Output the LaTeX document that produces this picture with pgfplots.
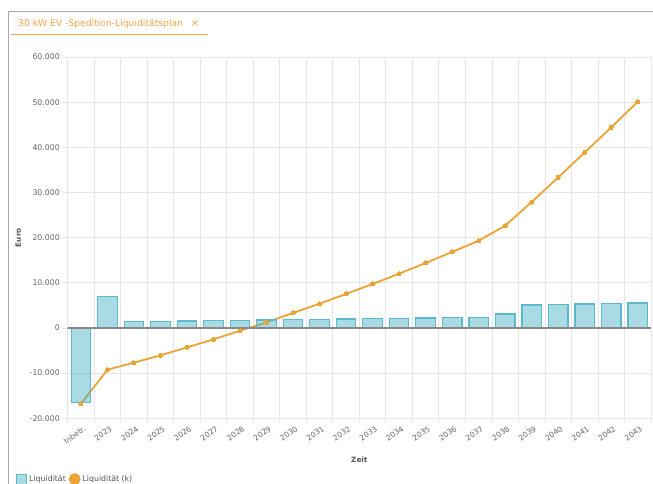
\documentclass[border=0pt]{standalone}
\usepackage{fontspec}
\setmainfont{DejaVu Sans}
\usepackage{pgfplots}
\pgfplotsset{compat=1.18}
\definecolor{framegray}{HTML}{A8A8A8}
\definecolor{titleorange}{HTML}{F5A346}
\definecolor{lineorange}{HTML}{EBA334}
\definecolor{gridgray}{HTML}{E6E6E6}
\definecolor{zerogray}{HTML}{888888}
\definecolor{tickgray}{HTML}{666666}
\definecolor{labelgray}{HTML}{555555}
\definecolor{barteal}{HTML}{40B0C4}
\definecolor{barborder}{HTML}{5BBACB}
\pgfplotstableread{
x y
0 -16450
1 7000
2 1400
3 1460
4 1550
5 1620
6 1690
7 1770
8 1850
9 1900
10 1990
11 2060
12 2130
13 2200
14 2280
15 2350
16 3100
17 5090
18 5230
19 5310
20 5380
21 5530
}\bars
\pgfplotstableread{
x y
0 -16800
1 -9230
2 -7680
3 -6060
4 -4290
5 -2520
6 -600
7 1240
8 3320
9 5380
10 7530
11 9740
12 12020
13 14390
14 16830
15 19330
16 22650
17 27890
18 33350
19 38880
20 44420
21 50100
}\cum
\begin{document}
\begin{tikzpicture}
\useasboundingbox (0,0) rectangle (653pt,483pt);
\clip (0,0) rectangle (653pt,483pt);
\draw[framegray, line width=1.5pt] (8.3pt,-2pt) -- (8.3pt,471.3pt) -- (660pt,471.3pt);
\node[anchor=base west, inner sep=0pt, text=titleorange, font=\fontsize{9.2}{11}\selectfont] at (18pt,456pt) {30 kW EV -Spedition-Liquiditätsplan};
\node[anchor=center, inner sep=0pt, text=titleorange, font=\fontsize{10}{11}\selectfont] at (195pt,459.5pt) {×};
\draw[titleorange, line width=1.3pt] (11pt,448.7pt) -- (208pt,448.7pt);
\begin{axis}[
  scale only axis, width=583.3pt, height=361.3pt,
  at={(67.7pt,64.7pt)}, anchor=south west,
  xmin=-0.5, xmax=21.5, ymin=-20000, ymax=60000,
  ytick={-20000,-10000,...,60000},
  scaled y ticks=false,
  xtick={0,...,21},
  xticklabels={Inbetr.,2023,2024,2025,2026,2027,2028,2029,2030,2031,2032,2033,2034,2035,2036,2037,2038,2039,2040,2041,2042,2043},
  minor xtick={-0.5,0.5,...,21.5},
  xmajorgrids=false, xminorgrids=true, ymajorgrids=true,
  grid style={draw=gridgray, line width=0.8pt},
  minor grid style={draw=gridgray, line width=0.8pt},
  axis line style={draw=gridgray, line width=0.8pt},
  tick align=outside, tick pos=left,
  major tick length=6pt, minor tick length=4pt,
  xtick style={draw=none},
  minor x tick style={draw=gridgray, line width=0.8pt},
  ytick style={draw=gridgray, line width=0.8pt},
  /pgf/number format/assume math mode=true,
  yticklabel style={/pgf/number format/.cd, fixed, precision=0, 1000 sep={.}, /tikz/.cd, anchor=east, inner sep=0pt, xshift=-1.7pt, text=tickgray, font=\fontsize{7.8}{9}\selectfont},
  xticklabel style={rotate=35, anchor=north east, inner sep=0pt, xshift=1pt, yshift=-2pt, text=tickgray, font=\fontsize{7.6}{9}\selectfont},
  xlabel={Zeit}, ylabel={Euro},
  xlabel style={at={(axis description cs:0.5,-0.1154)}, anchor=center, text=labelgray, font=\bfseries\fontsize{7.3}{9}\selectfont},
  ylabel style={at={(axis description cs:-0.0847,0.5)}, anchor=center, text=labelgray, font=\bfseries\fontsize{7.3}{9}\selectfont},
  reverse legend,
  legend columns=-1,
  legend style={at={(axis description cs:-0.0886,-0.1514)}, anchor=north west, draw=none, fill=none, inner sep=0pt, text=labelgray, font=\fontsize{7.8}{9}\selectfont, nodes={inner xsep=2pt, inner ysep=0pt}, /tikz/every even column/.append style={column sep=1pt}},
  legend cell align=left,
]
\addplot[color=lineorange, line width=1.8pt, mark=*, mark size=2pt, mark options={fill=lineorange, draw=lineorange, line width=0pt},
  legend image code/.code={\fill[lineorange] (5pt,0pt) circle (5pt);}] table[x=x,y=y] {\cum};
\addlegendentry{Liquidität (k)}
\addplot[ybar, bar width=19.5pt, fill=barteal, fill opacity=0.45, draw=barborder, line width=1.2pt,
  legend image code/.code={\draw[fill=barteal, fill opacity=0.45, draw=barborder, line width=1pt] (0pt,-5pt) rectangle (10pt,5pt);}] table[x=x,y=y] {\bars};
\addlegendentry{Liquidität}
\draw[zerogray, line width=1.4pt] (axis cs:21.5,0) -- (axis cs:-0.5,0) -- ++(-6pt,0pt);
\end{axis}
\end{tikzpicture}
\end{document}
